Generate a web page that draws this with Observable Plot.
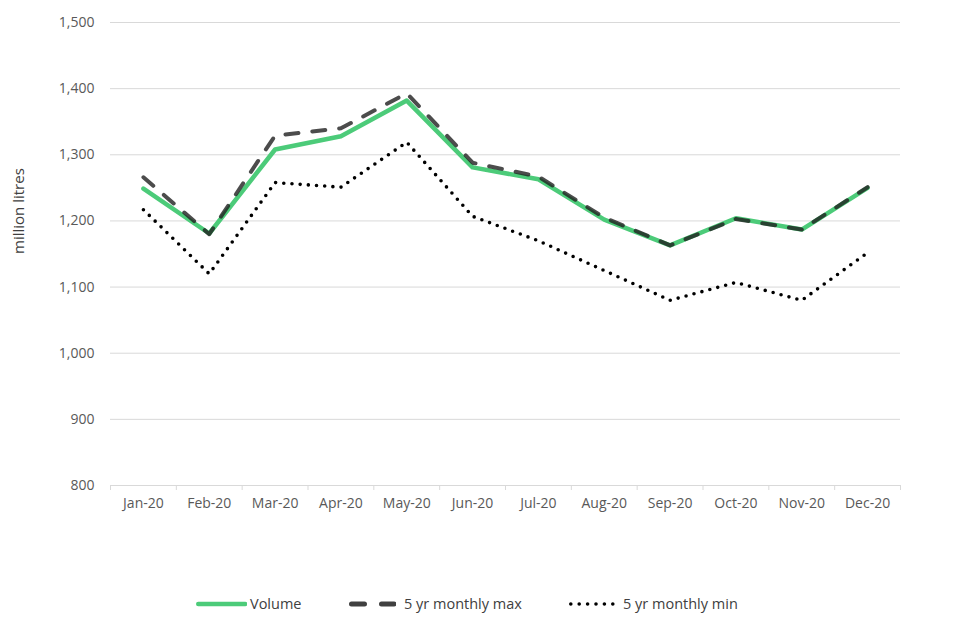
<!DOCTYPE html>
<html>
<head>
<meta charset="utf-8">
<script src="https://cdn.jsdelivr.net/npm/d3@7"></script>
<script src="https://cdn.jsdelivr.net/npm/@observablehq/plot@0.6"></script>
<style>
  html, body { margin: 0; padding: 0; background: #fff; }
  #wrap { position: relative; width: 960px; height: 640px; font-family: "Open Sans", sans-serif; }
  #legend { position: absolute; left: 0; top: 592px; width: 960px; height: 24px; font-size: 14.5px; color: #404040; }
  .sw, .lbl { position: absolute; top: 0; height: 24px; line-height: 24px; }
  .sw { display: block; }
</style>
</head>
<body>
<div id="wrap"><div id="chart"></div><div id="legend"></div></div>
<script>
const months = ["Jan-20","Feb-20","Mar-20","Apr-20","May-20","Jun-20","Jul-20","Aug-20","Sep-20","Oct-20","Nov-20","Dec-20"];
const volume = [1249, 1181, 1308, 1328, 1382, 1281, 1263, 1202, 1163, 1204, 1187, 1250];
const max5yr = [1266, 1180, 1329, 1340, 1393, 1288, 1267, 1205, 1163, 1203, 1187, 1251];
const min5yr = [1217, 1120, 1258, 1251, 1319, 1207, 1170, 1125, 1080, 1107, 1080, 1152];
const yTicks = [800, 900, 1000, 1100, 1200, 1300, 1400, 1500];
const seriesNames = ["Volume", "5 yr monthly max", "5 yr monthly min"];

const rows = (vals) => vals.map((v, i) => ({x: i + 0.5, v, m: months[i]}));
const grid = "#d9d9d9";
const fmt = d3.format(",");

const plot = Plot.plot({
  width: 960,
  height: 560,
  marginLeft: 110,
  marginRight: 60,
  marginTop: 22,
  marginBottom: 75,
  style: {fontFamily: "Open Sans, sans-serif", fontSize: "14px", color: "#595959", background: "#fff"},
  x: {type: "linear", domain: [0, months.length]},
  y: {domain: [800, 1500]},
  marks: [
    Plot.ruleY(yTicks.slice(1), {stroke: grid, strokeWidth: 1}),
    Plot.ruleY([800], {stroke: grid, strokeWidth: 1}),
    Plot.axisY({ticks: yTicks, tickFormat: fmt, tickSize: 0, tickPadding: 16, label: null, fill: "#595959", fontSize: 14}),
    Plot.text(["million litres"], {frameAnchor: "left", dx: -91, rotate: -90, fill: "#404040", fontSize: 15}),
    Plot.axisX({ticks: d3.range(0, months.length + 1), tickSize: 5, tickFormat: () => "", stroke: grid, label: null}),
    Plot.axisX({ticks: d3.range(months.length).map(i => i + 0.5), tickSize: 0, tickPadding: 13, tickFormat: d => months[Math.floor(d)], label: null, fill: "#595959", fontSize: 14}),
    Plot.line(rows(volume), {x: "x", y: "v", stroke: "#4ccb79", strokeWidth: 4.5, strokeLinejoin: "round"}),
    Plot.line(rows(max5yr), {x: "x", y: "v", stroke: "#1f1f1f", strokeOpacity: 0.8, strokeWidth: 4, strokeDasharray: "13,14", strokeLinecap: "round", strokeLinejoin: "round"}),
    Plot.line(rows(min5yr), {x: "x", y: "v", stroke: "#000", strokeWidth: 3.6, strokeDasharray: "0,8.2", strokeLinecap: "round"})
  ]
});
document.getElementById("chart").appendChild(plot);

// Legend
const legend = d3.select("#legend");
const items = [
  {name: seriesNames[0], x1: 196, x2: 247, text: 250, stroke: "#4ccb79", sw: 4.5, dash: null},
  {name: seriesNames[1], x1: 349, x2: 396, text: 404, stroke: "#404040", sw: 5, dash: "13,17"},
  {name: seriesNames[2], x1: 569, x2: 615, text: 623, stroke: "#000", sw: 3.6, dash: "0,8.4"}
];
items.forEach(it => {
  const s = legend.append("svg").attr("class", "sw")
    .style("left", it.x1 + "px").attr("width", it.x2 - it.x1).attr("height", 24);
  s.append("line").attr("x1", it.sw / 2).attr("x2", it.x2 - it.x1 - it.sw / 2 + 0.5).attr("y1", 12).attr("y2", 12)
    .attr("stroke", it.stroke).attr("stroke-width", it.sw).attr("stroke-linecap", "round")
    .attr("stroke-dasharray", it.dash);
  legend.append("span").attr("class", "lbl").style("left", it.text + "px").text(it.name);
});
</script>
</body>
</html>
